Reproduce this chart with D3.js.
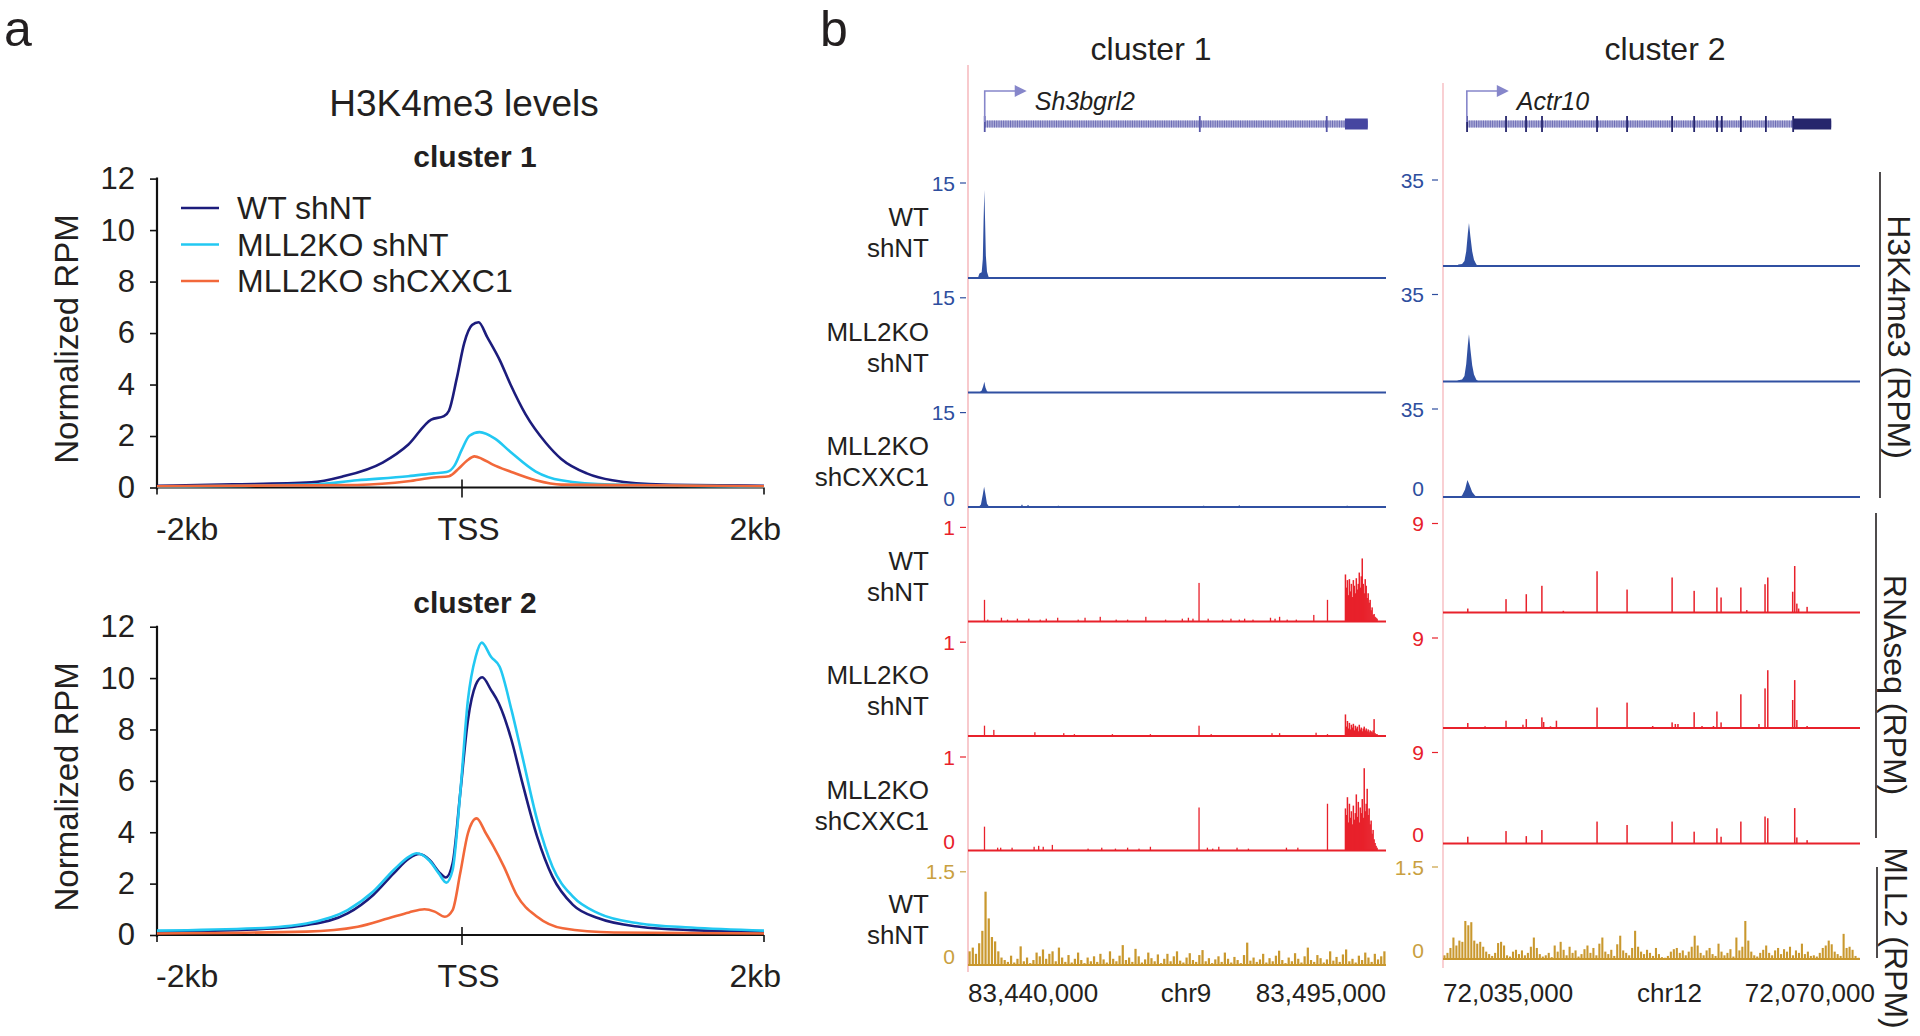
<!DOCTYPE html>
<html><head><meta charset="utf-8">
<script src="https://cdn.jsdelivr.net/npm/d3@7"></script>
<style>
body{margin:0;background:#fff}
svg{display:block}
text{font-family:"Liberation Sans",Arial,sans-serif}
</style></head>
<body><svg id="c" width="1920" height="1036"></svg>
<script>
// ---------------- DATA ----------------
const profileTicks = [0,2,4,6,8,10,12];
const profileXLabels = ["-2kb","TSS","2kb"];
const seriesNames = ["WT shNT","MLL2KO shNT","MLL2KO shCXXC1"];
const seriesColors = ["#1c1c7c","#22c8f2","#f2683a"];

// cluster 1 profiles [bp from TSS, normalized RPM]
const c1_wt = [[-2000,0.07],[-1500,0.12],[-983,0.2],[-782,0.42],[-513,0.97],[-345,1.66],[-193,2.64],[-109,2.77],[-76,2.98],[-25,4.23],[25,5.62],[76,6.31],[119,6.42],[177,5.83],[261,4.92],[328,4.02],[429,2.84],[563,1.73],[664,1.11],[832,0.55],[1000,0.28],[1336,0.11],[2000,0.07]];
const c1_ko = [[-2000,0.04],[-983,0.11],[-681,0.28],[-345,0.44],[-176,0.55],[-92,0.6],[-42,0.83],[8,1.46],[59,2.01],[126,2.15],[227,1.9],[328,1.39],[496,0.62],[664,0.28],[1000,0.11],[2000,0.04]];
const c1_cx = [[-2000,0.05],[-681,0.1],[-345,0.24],[-176,0.39],[-76,0.44],[-8,0.76],[42,1.04],[92,1.21],[143,1.11],[210,0.9],[328,0.62],[496,0.28],[664,0.11],[2000,0.05]];
// cluster 2 profiles
const c2_wt = [[-2000,0.13],[-1352,0.22],[-1015,0.39],[-744,0.84],[-575,1.56],[-440,2.4],[-339,2.98],[-272,3.15],[-204,2.92],[-143,2.46],[-96,2.24],[-52,2.79],[-2,5.5],[49,8.37],[100,9.73],[143,10.03],[201,9.54],[252,9.02],[336,7.59],[403,6.03],[505,3.83],[606,2.27],[741,1.17],[910,0.65],[1180,0.32],[1518,0.19],[2000,0.13]];
const c2_ko = [[-2000,0.17],[-1352,0.26],[-1015,0.45],[-744,0.97],[-575,1.69],[-440,2.53],[-339,3.05],[-289,3.18],[-204,2.89],[-143,2.4],[-93,2.04],[-52,2.53],[-2,5.5],[49,9.15],[100,10.83],[140,11.38],[201,10.83],[258,10.44],[336,8.76],[403,7.07],[505,4.48],[606,2.66],[741,1.49],[910,0.84],[1180,0.45],[1518,0.29],[2000,0.17]];
const c2_cx = [[-2000,0.06],[-1015,0.13],[-677,0.32],[-474,0.65],[-339,0.88],[-238,1.0],[-170,0.91],[-103,0.71],[-52,0.97],[-2,2.4],[49,3.96],[106,4.54],[167,3.96],[218,3.44],[286,2.66],[370,1.56],[505,0.71],[674,0.26],[1011,0.1],[2000,0.06]];

// browser tracks
const trackNames = [["WT","shNT"],["MLL2KO","shNT"],["MLL2KO","shCXXC1"],["WT","shNT"],["MLL2KO","shNT"],["MLL2KO","shCXXC1"],["WT","shNT"]];
const scaleTopL = [15,15,15,1,1,1,1.5];
const scaleTopR = [35,35,35,9,9,9,1.5];
const zeroShown = [false,false,true,false,false,true,true];
const regionL = [83440,83495];   // kb
const regionR = [72035,72070];   // kb
const regionLabelsL = ["83,440,000","chr9","83,495,000"];
const regionLabelsR = ["72,035,000","chr12","72,070,000"];
const groupLabels = ["H3K4me3 (RPM)","RNAseq (RPM)","MLL2 (RPM)"];

// gene models (kb)
const geneL_name = "Sh3bgrl2", geneL_span = [83442.2,83492.6], geneL_utr = [83489.6,83492.6], geneL_exons = [83442.2,83470.5,83487.2];
const geneR_name = "Actr10", geneR_span = [72037.0,72067.58], geneR_utr = [72064.4,72067.58],
      geneR_exons = [72037.02,72040.29,72041.97,72043.31,72047.93,72050.45,72054.23,72056.08,72058.0,72058.4,72060.0,72062.1,72064.39];

// H3K4me3 peaks [kb, RPM]
const h3L_wt = [[83441.3,0],[83441.5,0.7],[83441.8,0.9],[83441.95,3],[83442.05,9],[83442.15,13.9],[83442.25,9],[83442.35,3.5],[83442.5,1],[83442.7,0.2],[83442.9,0]];
const h3L_ko = [[83441.5,0],[83441.8,0.3],[83442.0,1.0],[83442.15,1.7],[83442.3,0.8],[83442.5,0.2],[83442.7,0]];
const h3L_cx = [[83441.4,0],[83441.7,0.4],[83441.95,2.0],[83442.12,3.2],[83442.3,2.0],[83442.5,0.5],[83442.8,0]];
const h3L_cx_blips = [[83447.1,0.35],[83447.9,0.3],[83451.9,0.2],[83471.0,0.2],[83475.7,0.25],[83489.9,0.2]];
const h3R_wt = [[72036.1,0],[72036.3,0.6],[72036.6,0.8],[72036.8,2],[72036.95,6],[72037.08,13],[72037.18,17.5],[72037.3,12],[72037.45,6],[72037.6,2.5],[72037.8,0.6],[72038.0,0]];
const h3R_ko = [[72036.1,0],[72036.3,0.5],[72036.6,0.8],[72036.8,2.2],[72036.95,7],[72037.08,14.5],[72037.18,19],[72037.3,13],[72037.45,6.5],[72037.6,2.8],[72037.8,0.7],[72038.0,0]];
const h3R_cx = [[72036.4,0],[72036.6,0.6],[72036.85,3],[72037.05,6.8],[72037.25,4.5],[72037.45,2],[72037.7,0.5],[72037.9,0]];

// RNAseq spikes [kb, RPM]
const rnaL_wt = [[83442.17,0.23],[83442.6,0.02],[83444.4,0.04],[83445.2,0.02],[83446.5,0.03],[83448.0,0.03],[83449.5,0.02],[83450.3,0.03],[83451.8,0.04],[83454.5,0.02],[83455.4,0.04],[83457.4,0.05],[83459.5,0.02],[83461.0,0.02],[83463.4,0.05],[83466.0,0.02],[83468.2,0.03],[83469.0,0.04],[83469.6,0.03],[83470.4,0.41],[83471.6,0.03],[83473.5,0.02],[83474.6,0.03],[83475.7,0.02],[83476.4,0.03],[83477.5,0.02],[83479.8,0.04],[83480.4,0.03],[83481.0,0.05],[83482.0,0.02],[83483.2,0.02],[83485.5,0.07],[83487.3,0.23]];
const rnaL_ko = [[83442.17,0.11],[83443.4,0.065],[83448.8,0.04],[83452.6,0.03],[83454.0,0.02],[83459.0,0.02],[83464.0,0.02],[83470.4,0.11],[83472.0,0.02],[83480.0,0.03],[83481.0,0.03],[83485.8,0.035],[83487.3,0.02]];
const rnaL_cx = [[83442.17,0.255],[83443.9,0.03],[83444.3,0.03],[83445.8,0.03],[83448.7,0.04],[83449.3,0.05],[83449.9,0.04],[83451.1,0.06],[83455.8,0.02],[83457.6,0.03],[83459.4,0.02],[83461.0,0.03],[83462.5,0.02],[83464.0,0.04],[83470.4,0.46],[83471.5,0.03],[83472.2,0.02],[83473.0,0.04],[83475.4,0.03],[83476.9,0.02],[83481.9,0.03],[83483.4,0.03],[83487.3,0.50]];
// last exon (3'UTR) coverage, bins of 0.13 kb from 83489.6
const exonBinStartL = 83489.6, exonBinStepL = 0.13;
const rnaL_wt_exon = [0.50,0.36,0.44,0.28,0.45,0.32,0.40,0.26,0.44,0.38,0.30,0.46,0.34,0.40,0.52,0.36,0.48,0.67,0.40,0.30,0.45,0.38,0.25,0.30,0.20,0.23,0.12,0.15,0.07,0.08,0.05,0.04,0.03];
const rnaL_ko_exon = [0.23,0.10,0.16,0.08,0.14,0.07,0.12,0.09,0.13,0.06,0.11,0.08,0.10,0.05,0.12,0.07,0.09,0.05,0.08,0.10,0.06,0.08,0.05,0.07,0.04,0.06,0.05,0.04,0.06,0.18,0.03,0.02,0.02];
const rnaL_cx_exon = [0.45,0.38,0.57,0.30,0.50,0.35,0.42,0.28,0.48,0.33,0.40,0.60,0.36,0.52,0.30,0.46,0.40,0.55,0.35,0.88,0.42,0.50,0.66,0.38,0.45,0.28,0.32,0.18,0.22,0.12,0.08,0.05,0.03];

const rnaR_wt = [[72037.08,0.40],[72040.29,1.35],[72041.99,1.85],[72043.30,2.70],[72045.10,0.17],[72047.93,4.17],[72050.45,2.32],[72054.23,3.54],[72056.08,2.19],[72057.99,2.53],[72058.34,1.52],[72060.00,2.53],[72060.50,0.24],[72062.03,2.86],[72062.26,3.54],[72064.35,2.10],[72064.52,4.70],[72064.70,0.90],[72064.85,0.40],[72065.56,0.57]];
const rnaR_ko = [[72037.08,0.5],[72038.53,0.17],[72040.29,0.73],[72041.71,0.33],[72041.99,0.89],[72043.30,1.06],[72043.45,0.6],[72044.02,0.17],[72044.52,0.73],[72047.93,2.05],[72050.45,2.54],[72052.6,0.2],[72054.23,0.56],[72054.5,0.4],[72054.72,0.4],[72056.08,1.58],[72056.74,0.2],[72057.7,0.2],[72057.99,1.65],[72058.34,0.56],[72060.0,3.37],[72061.52,0.4],[72062.03,3.96],[72062.26,5.78],[72064.35,2.8],[72064.52,4.79],[72064.7,0.8],[72065.56,0.2]];
const rnaR_cx = [[72037.08,0.67],[72040.29,1.23],[72041.99,0.73],[72043.30,1.33],[72047.93,2.17],[72050.45,1.83],[72054.23,2.17],[72056.08,1.17],[72057.99,1.5],[72058.34,0.67],[72060.0,2.17],[72062.03,2.67],[72062.26,2.5],[72064.52,3.5],[72064.7,0.6],[72065.56,0.33]];

// MLL2 ChIP coverage, equal bins across each region
const mll2L = [0.22,0.28,0.18,0.35,0.55,1.18,0.75,0.45,0.38,0.22,0.12,
0.08,0.05,0.15,0.04,0.10,0.30,0.06,0.12,0.03,0.08,
0.20,0.14,0.25,0.10,0.18,0.22,0.06,0.28,0.12,0.05,
0.16,0.04,0.10,0.20,0.08,0.03,0.12,0.06,0.14,0.05,
0.18,0.09,0.04,0.22,0.10,0.06,0.15,0.32,0.08,0.12,
0.05,0.26,0.14,0.04,0.09,0.20,0.11,0.06,0.17,0.03,
0.10,0.18,0.06,0.14,0.22,0.07,0.04,0.12,0.19,0.08,
0.05,0.16,0.24,0.06,0.11,0.03,0.09,0.14,0.05,0.20,
0.10,0.04,0.13,0.08,0.03,0.16,0.36,0.07,0.12,0.05,
0.09,0.18,0.04,0.11,0.06,0.15,0.23,0.08,0.03,0.12,
0.06,0.19,0.10,0.04,0.14,0.28,0.08,0.05,0.16,0.11,
0.04,0.09,0.22,0.07,0.13,0.05,0.17,0.25,0.06,0.10,
0.04,0.15,0.08,0.20,0.12,0.05,0.18,0.09,0.14,0.22];
const mll2R = [0.06,0.10,0.18,0.35,0.22,0.30,0.28,0.62,0.55,0.60,
0.30,0.25,0.28,0.20,0.12,0.08,0.05,0.10,0.26,0.28,
0.22,0.06,0.04,0.12,0.15,0.08,0.14,0.06,0.10,0.20,
0.35,0.18,0.08,0.04,0.06,0.10,0.03,0.22,0.12,0.28,
0.15,0.06,0.20,0.10,0.14,0.04,0.08,0.16,0.22,0.10,
0.18,0.06,0.25,0.35,0.12,0.08,0.15,0.05,0.24,0.38,
0.14,0.10,0.06,0.18,0.46,0.20,0.12,0.08,0.15,0.10,
0.05,0.18,0.08,0.03,0.02,0.05,0.12,0.16,0.18,0.10,
0.14,0.06,0.12,0.20,0.38,0.22,0.10,0.06,0.14,0.18,
0.08,0.05,0.25,0.12,0.06,0.10,0.16,0.04,0.35,0.14,
0.20,0.62,0.30,0.12,0.06,0.04,0.10,0.15,0.22,0.10,
0.06,0.14,0.18,0.08,0.16,0.12,0.20,0.06,0.14,0.10,
0.25,0.08,0.12,0.05,0.06,0.04,0.10,0.18,0.22,0.30,
0.24,0.12,0.08,0.05,0.41,0.18,0.20,0.15,0.05,0.02];

// ---------------- DRAW ----------------
const svg = d3.select("#c");
const ink = "#231f20";
const kindColor = {h3:"#3050a2", rna:"#e8212b", mll2:"#c9982e"};
const kindLabelColor = {h3:"#2e4e9e", rna:"#e8212b", mll2:"#c9a040"};
function txt(x, y, s, size, anchor, fill) {
  return svg.append("text").attr("x",x).attr("y",y).attr("text-anchor",anchor||"start")
    .style("font-size",size+"px").style("fill",fill||ink).text(s);
}

// panel letters
txt(4,46,"a",50);
txt(820,46,"b",50);

// ---- panel a ----
txt(464,116,"H3K4me3 levels",37,"middle");

function profilePlot(y0px, y12px, title, titleY, data, withLegend) {
  const x = d3.scaleLinear().domain([-2000,2000]).range([157,764]);
  const y = d3.scaleLinear().domain([0,12]).range([y0px,y12px]);
  const g = svg.append("g");
  txt(475,titleY,title,30,"middle").style("font-weight","bold");
  const ax = g.append("g").attr("transform","translate(157,0)")
    .call(d3.axisLeft(y).tickValues(profileTicks).tickSize(7).tickPadding(15).tickSizeOuter(0));
  ax.select(".domain").attr("stroke","#111").attr("stroke-width",2.2).attr("d",`M0,${y12px-1}V${y0px+2}`);
  ax.selectAll(".tick line").attr("stroke","#111").attr("stroke-width",1.6);
  ax.selectAll(".tick text").style("font-size","31px").style("fill",ink).style("font-family","'Liberation Sans',Arial,sans-serif");
  // x axis
  g.append("line").attr("x1",x(-2000)).attr("x2",x(2000)).attr("y1",y(0)).attr("y2",y(0)).attr("stroke","#111").attr("stroke-width",2.2);
  g.append("line").attr("x1",x(0)+1.5).attr("x2",x(0)+1.5).attr("y1",y(0)-8).attr("y2",y(0)+10).attr("stroke","#111").attr("stroke-width",1.6);
  [-2000,2000].forEach(v=>g.append("line").attr("x1",x(v)).attr("x2",x(v)).attr("y1",y(0)).attr("y2",y(0)+7).attr("stroke","#111").attr("stroke-width",1.6));
  const ly = y(0)+52;
  txt(x(-2000)-1,ly,profileXLabels[0],32,"start");
  txt(x(0)+8,ly,profileXLabels[1],32,"middle");
  txt(x(2000)+17,ly,profileXLabels[2],32,"end");
  // y label
  svg.append("text").attr("transform",`translate(78,${(y0px+y12px)/2+6}) rotate(-90)`).attr("text-anchor","middle")
    .style("font-size","33px").style("fill",ink).text("Normalized RPM");
  const line = d3.line().x(d=>x(d[0])).y(d=>y(d[1])).curve(d3.curveMonotoneX);
  data.forEach((s,i)=>{
    g.append("path").attr("d",line(s)).attr("fill","none").attr("stroke",seriesColors[i]).attr("stroke-width",2.6).attr("stroke-linejoin","round");
  });
  if (withLegend) {
    seriesNames.forEach((n,i)=>{
      const yy = 208 + i*36.5;
      g.append("line").attr("x1",181).attr("x2",219).attr("y1",yy).attr("y2",yy).attr("stroke",seriesColors[i]).attr("stroke-width",2.6);
      txt(237,yy+11,n,32);
    });
  }
}
profilePlot(487.5,178.6,"cluster 1",167,[c1_wt,c1_ko,c1_cx],true);
profilePlot(935,626.7,"cluster 2",613,[c2_wt,c2_ko,c2_cx],false);

// ---- panel b ----
const colL = {x: d3.scaleLinear().domain(regionL).range([968,1386]), tick0:183, tickStep:114.8, base0:278, baseStep:114.5, labX:955, dash:[960,966], tops:scaleTopL};
const colR = {x: d3.scaleLinear().domain(regionR).range([1443,1860]), tick0:180, tickStep:114.5, base0:266, baseStep:115.5, labX:1424, dash:[1432,1438], tops:scaleTopR};

txt(1151,60,"cluster 1",32,"middle");
txt(1665,60,"cluster 2",32,"middle");

// pink guide lines
svg.append("line").attr("x1",968).attr("x2",968).attr("y1",65).attr("y2",972).attr("stroke","#f8c4c8").attr("stroke-width",1.8);
svg.append("line").attr("x1",1443).attr("x2",1443).attr("y1",83).attr("y2",968).attr("stroke","#f8c4c8").attr("stroke-width",1.6);

function geneModel(col, name, span, utr, exons, utrColor, exonColor) {
  const x = col.x, gy = 124;
  svg.append("rect").attr("x",x(span[0])).attr("y",gy-3.5).attr("width",x(span[1])-x(span[0])).attr("height",7).attr("fill","#aeaed8");
  svg.append("line").attr("x1",x(span[0])).attr("x2",x(span[1])).attr("y1",gy).attr("y2",gy)
    .attr("stroke","#6c6cb4").attr("stroke-width",7).attr("stroke-dasharray","1,1.3");
  svg.append("rect").attr("x",x(utr[0])).attr("y",gy-5.5).attr("width",x(utr[1])-x(utr[0])).attr("height",11).attr("fill",utrColor);
  exons.forEach(e=>svg.append("line").attr("x1",x(e)).attr("x2",x(e)).attr("y1",gy-8).attr("y2",gy+8).attr("stroke",exonColor).attr("stroke-width",1.8));
  const tx = x(span[0]);
  const ac = "#8686ca";
  svg.append("path").attr("d",`M${tx},${gy-2}V${gy-33}H${tx+33}`).attr("fill","none").attr("stroke",ac).attr("stroke-width",1.6);
  svg.append("path").attr("d",`M${tx+30},${gy-39}L${tx+42},${gy-33}L${tx+30},${gy-27}Z`).attr("fill",ac);
  txt(tx+50,110,name,25).style("font-style","italic");
}
geneModel(colL, geneL_name, geneL_span, geneL_utr, geneL_exons, "#4646a0", "#5656a8");
geneModel(colR, geneR_name, geneR_span, geneR_utr, geneR_exons, "#25256c", "#25256c");

function trackScale(col, i, max) {
  const t = col.tick0 + col.tickStep*i, b = col.base0 + col.baseStep*i;
  return d3.scaleLinear().domain([0,max]).range([b,t]);
}
function drawBars(col, y, pts, w, color) {
  svg.append("g").selectAll("rect").data(pts).join("rect")
    .attr("x",d=>col.x(d[0])-w/2).attr("width",w)
    .attr("y",d=>y(d[1])).attr("height",d=>y(0)-y(d[1])).attr("fill",color);
}
function drawBins(col, y, vals, start, step, color, shrink) {
  const pts = vals.map((v,j)=>[start+j*step+step/2, v]);
  const w = Math.max(1.2, col.x(start+step)-col.x(start));
  drawBars(col, y, pts, shrink ? w*shrink : w+0.3, color);
}
function drawPeak(col, y, pts, color) {
  const area = d3.area().x(d=>col.x(d[0])).y0(y(0)).y1(d=>y(d[1]));
  svg.append("path").attr("d",area(pts)).attr("fill",color);
}
function trackFrame(col, i, kind, withNames) {
  const max = col.tops[i];
  const y = trackScale(col, i, max);
  const c = kindColor[kind];
  const lc = kindLabelColor[kind];
  svg.append("line").attr("x1",col.x.range()[0]).attr("x2",col.x.range()[1]).attr("y1",y(0)).attr("y2",y(0)).attr("stroke",c).attr("stroke-width",2);
  txt(col.labX,y(max)+7.5,max,21,"end",lc);
  svg.append("line").attr("x1",col.dash[0]).attr("x2",col.dash[1]).attr("y1",y(max)).attr("y2",y(max)).attr("stroke",lc).attr("stroke-width",1.2);
  if (zeroShown[i]) txt(col.labX,y(0)-1.5,0,21,"end",lc);
  if (withNames) {
    txt(929,y(0)-52,trackNames[i][0],26,"end");
    txt(929,y(0)-21,trackNames[i][1],26,"end");
  }
  return y;
}

// left column
let y;
y = trackFrame(colL,0,"h3",true); drawPeak(colL,y,h3L_wt,kindColor.h3);
y = trackFrame(colL,1,"h3",true); drawPeak(colL,y,h3L_ko,kindColor.h3);
y = trackFrame(colL,2,"h3",true); drawPeak(colL,y,h3L_cx,kindColor.h3); drawBars(colL,y,h3L_cx_blips,1.3,kindColor.h3);
y = trackFrame(colL,3,"rna",true); drawBars(colL,y,rnaL_wt,1.3,kindColor.rna); drawBins(colL,y,rnaL_wt_exon,exonBinStartL,exonBinStepL,kindColor.rna);
y = trackFrame(colL,4,"rna",true); drawBars(colL,y,rnaL_ko,1.3,kindColor.rna); drawBins(colL,y,rnaL_ko_exon,exonBinStartL,exonBinStepL,kindColor.rna);
y = trackFrame(colL,5,"rna",true); drawBars(colL,y,rnaL_cx,1.3,kindColor.rna); drawBins(colL,y,rnaL_cx_exon,exonBinStartL,exonBinStepL,kindColor.rna);
y = trackFrame(colL,6,"mll2",true); drawBins(colL,y,mll2L,regionL[0],(regionL[1]-regionL[0])/mll2L.length,kindColor.mll2,0.7);

// right column
y = trackFrame(colR,0,"h3",false); drawPeak(colR,y,h3R_wt,kindColor.h3);
y = trackFrame(colR,1,"h3",false); drawPeak(colR,y,h3R_ko,kindColor.h3);
y = trackFrame(colR,2,"h3",false); drawPeak(colR,y,h3R_cx,kindColor.h3);
y = trackFrame(colR,3,"rna",false); drawBars(colR,y,rnaR_wt,1.5,kindColor.rna);
y = trackFrame(colR,4,"rna",false); drawBars(colR,y,rnaR_ko,1.5,kindColor.rna);
y = trackFrame(colR,5,"rna",false); drawBars(colR,y,rnaR_cx,1.5,kindColor.rna);
y = trackFrame(colR,6,"mll2",false); drawBins(colR,y,mll2R,regionR[0],(regionR[1]-regionR[0])/mll2R.length,kindColor.mll2,0.7);

// region labels
function regionAxis(col, labels, endExtra, midShift) {
  const [a,b] = col.x.range();
  txt(a,1002,labels[0],26,"start");
  txt((a+b)/2+midShift,1002,labels[1],26,"middle");
  txt(b+endExtra,1002,labels[2],26,"end");
}
regionAxis(colL, regionLabelsL, 0, 9);
regionAxis(colR, regionLabelsR, 15, 18);

// right group labels
const groups = [{x:1880,y1:172,y2:498,ty:337},{x:1876,y1:513,y2:838,ty:685},{x:1877,y1:867,y2:958,ty:938}];
groups.forEach((gp,i)=>{
  svg.append("line").attr("x1",gp.x).attr("x2",gp.x).attr("y1",gp.y1).attr("y2",gp.y2).attr("stroke",ink).attr("stroke-width",1.6);
  svg.append("text").attr("transform",`translate(${gp.x+8},${gp.ty}) rotate(90)`).attr("text-anchor","middle")
    .style("font-size","32px").style("fill",ink).text(groupLabels[i]);
});
</script></body></html>
